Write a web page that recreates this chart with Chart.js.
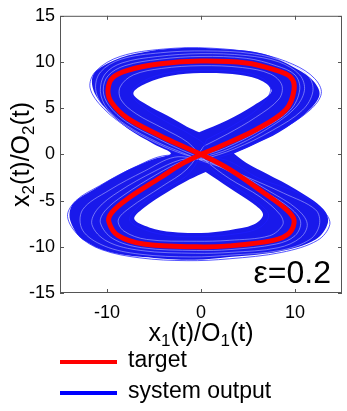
<!DOCTYPE html>
<html>
<head>
<meta charset="utf-8">
<script src="https://cdn.jsdelivr.net/npm/chart.js@4"></script>
<style>
  html, body { margin: 0; padding: 0; background: #fff; }
</style>
</head>
<body>
<canvas id="orbitChart" width="347" height="411"></canvas>
<script>
// axis ticks
var xTicks = [-10, 0, 10];
var yTicks = [-15, -10, -5, 0, 5, 10, 15];

// target orbit (red)
var target = [[0,0],[2.3,1.0],[5.9,2.7],[9.0,4.8],[9.9,7.0],[9.5,8.4],[7.7,9.2],[4.8,9.9],[0,10.1],[-4.3,9.8],[-7.8,9.1],[-9.4,8.3],[-9.9,6.9],[-9.5,5.6],[-7.8,3.9],[-4.3,2.0],[-2.0,0.9],[0,0],[3.0,-1.6],[6.6,-4.1],[9.0,-5.9],[9.9,-7.1],[9.4,-8.5],[7.7,-9.3],[3.0,-9.9],[-0.5,-10.0],[-6.1,-9.7],[-8.8,-8.8],[-9.8,-7.3],[-9.5,-6.3],[-7.8,-4.8],[-4.3,-2.5],[-2.0,-1.0],[0,0]];

// system output: outline of the dense band and its two holes
var band = [[3.5,0.1],[5.5,1.0],[8.3,2.4],[11.2,4.5],[12.6,6.4],[12.0,7.9],[10.1,9.3],[6.6,10.9],[2.0,11.4],[-2.4,11.5],[-7.0,10.9],[-10.0,9.8],[-11.5,8.5],[-11.3,6.6],[-9.6,4.4],[-7.8,2.8],[-5.0,1.1],[-3.2,0.1],[-5.0,-0.5],[-7.8,-1.7],[-11.4,-3.8],[-13.5,-5.2],[-14.0,-6.5],[-13.6,-7.9],[-12.6,-9.2],[-9.6,-10.6],[-5.0,-11.2],[-0.7,-11.4],[3.0,-11.1],[8.3,-10.5],[12.2,-9.2],[13.5,-7.4],[13.0,-5.9],[10.1,-3.8],[7.0,-2.1],[4.8,-0.9],[3.5,0.1]];
var holeUp = [[-0.2,2.4],[2.8,3.7],[5.6,5.3],[7.5,6.8],[6.6,7.9],[4.2,8.6],[0,8.8],[-3.2,8.5],[-5.8,7.7],[-7.2,6.6],[-5.8,5.4],[-3.6,4.2],[-1.5,3.0],[-0.2,2.4]];
var holeLow = [[0.5,-1.9],[3.0,-3.6],[5.5,-5.3],[6.6,-6.5],[5.6,-7.6],[3.0,-8.2],[0,-8.5],[-3.0,-8.4],[-5.5,-7.9],[-7.1,-7.0],[-6.1,-5.8],[-3.6,-4.1],[-1.2,-2.7],[0.5,-1.9]];

// single output loops (streaks and ragged edges)
var loopInner = [[0.6,1.6],[3.2,3.0],[6.0,4.9],[7.4,6.9],[6.6,8.2],[4.2,8.9],[0,9.1],[-3.5,8.8],[-6.0,8.0],[-7.4,6.6],[-6.0,5.0],[-3.8,3.6],[-1.2,2.2],[0.8,0.6],[1.0,-1.4],[3.2,-3.2],[5.9,-5.1],[7.2,-6.6],[6.1,-8.0],[3.0,-8.7],[0,-8.9],[-3.2,-8.8],[-5.9,-8.2],[-7.6,-7.1],[-6.5,-5.5],[-4.0,-3.8],[-1.5,-2.3],[-0.2,-0.4],[0.6,1.6]];
var loopMidIn = [[0.3,0.9],[2.8,2.2],[5.8,4.0],[8.3,6.0],[8.6,7.5],[7.4,8.7],[4.4,9.4],[0,9.6],[-4.2,9.3],[-7.2,8.6],[-8.6,7.3],[-8.5,5.9],[-6.9,4.4],[-4.0,2.8],[-1.4,1.3],[0.4,-0.6],[3.0,-2.6],[6.3,-4.6],[8.4,-6.5],[8.7,-7.6],[7.3,-8.8],[3.0,-9.3],[-0.5,-9.4],[-5.8,-9.2],[-8.2,-8.3],[-8.8,-7.1],[-7.6,-5.8],[-4.2,-3.5],[-1.5,-1.6],[0.3,0.9]];
var loopNear = [[0,-0.2],[2.6,0.7],[6.3,2.6],[9.5,4.8],[10.5,7.0],[10.0,8.6],[8.0,9.6],[4.8,10.4],[0,10.6],[-4.4,10.3],[-8.1,9.6],[-9.9,8.5],[-10.4,6.9],[-9.8,5.3],[-7.9,3.5],[-4.4,1.6],[-2.1,0.5],[0.2,-0.5],[3.3,-2.0],[6.9,-4.1],[9.6,-5.9],[10.6,-7.3],[10.0,-8.8],[8.0,-9.7],[3.1,-10.3],[-0.5,-10.4],[-6.3,-10.1],[-9.4,-9.1],[-10.7,-7.4],[-10.2,-6.1],[-8.2,-4.4],[-4.6,-2.1],[-2.1,-0.8],[0,-0.2]];
var loopMidOut = [[0,-0.4],[3.0,0.6],[6.8,2.6],[9.9,4.9],[11.0,6.9],[10.5,8.6],[8.3,10.0],[4.8,10.7],[0,10.9],[-4.6,10.6],[-8.4,9.9],[-10.2,8.7],[-10.7,6.8],[-10.0,5.0],[-8.0,3.2],[-4.6,1.3],[-2.0,0.2],[0.4,-0.8],[3.6,-1.9],[7.3,-4.0],[10.2,-5.9],[11.3,-7.5],[10.6,-9.0],[8.2,-10.1],[3.2,-10.6],[-0.6,-10.7],[-6.4,-10.4],[-10.0,-9.4],[-11.6,-7.6],[-11.0,-5.9],[-8.7,-4.0],[-4.9,-1.8],[-2.2,-0.6],[0,-0.4]];
var loopWide = [[0.1,-0.6],[3.6,0.6],[7.6,2.6],[10.8,4.8],[11.9,6.8],[11.4,8.5],[9.2,9.9],[5.5,10.9],[0.5,11.2],[-4.3,11.0],[-8.5,10.3],[-10.7,8.9],[-11.2,7.0],[-10.2,4.9],[-7.9,3.0],[-4.5,1.1],[-1.8,0.0],[1.5,-1.0],[5.0,-2.5],[8.8,-4.2],[12.2,-6.0],[12.6,-7.6],[11.6,-9.2],[8.4,-10.4],[3.1,-10.9],[-1.0,-11.1],[-6.5,-10.8],[-10.3,-9.9],[-12.6,-8.2],[-12.6,-6.0],[-9.8,-3.9],[-6.0,-1.8],[-2.8,-0.3],[0.1,-0.6]];
var loopOuter = [[0.2,-0.9],[4.2,0.5],[8.4,2.6],[11.6,4.8],[12.8,6.6],[12.1,8.2],[9.9,9.7],[6.2,10.9],[1.0,11.5],[-4.0,11.4],[-8.6,10.6],[-11.2,9.0],[-11.8,7.2],[-10.4,5.0],[-7.8,2.9],[-4.4,1.0],[-1.5,-0.2],[2.6,-0.6],[6.2,-2.6],[10.4,-4.2],[13.1,-6.2],[13.7,-7.6],[12.4,-9.3],[8.6,-10.6],[3.0,-11.3],[-1.5,-11.5],[-6.5,-11.2],[-10.6,-10.3],[-13.0,-8.8],[-14.2,-6.7],[-13.3,-5.0],[-10.8,-3.4],[-7.3,-1.5],[-3.6,-0.1],[0.2,-0.9]];

var FONT = '"Liberation Sans", Arial, Helvetica, sans-serif';

function toPoints(arr) {
    return arr.map(function (p) { return { x: p[0], y: p[1] }; });
}

function curve(arr, color, width, extra) {
    var ds = {
        data: toPoints(arr),
        borderColor: color,
        borderWidth: width,
        pointRadius: 0,
        tension: 0.35,
        fill: false
    };
    return Object.assign(ds, extra || {});
}

// draws text made of normal and subscript pieces, centred on (cx, cy)
function drawSubText(ctx, parts, cx, cy, size) {
    var big = size + 'px ' + FONT, small = Math.round(size * 0.68) + 'px ' + FONT;
    var total = 0;
    parts.forEach(function (p) {
        ctx.font = p[1] ? small : big;
        total += ctx.measureText(p[0]).width;
    });
    var x = cx - total / 2;
    ctx.textAlign = 'left';
    ctx.textBaseline = 'middle';
    parts.forEach(function (p) {
        ctx.font = p[1] ? small : big;
        ctx.fillText(p[0], x, p[1] ? cy + size * 0.3 : cy);
        x += ctx.measureText(p[0]).width;
    });
}

var decorations = {
    id: 'decorations',
    afterDraw: function (chart) {
        var ctx = chart.ctx, a = chart.chartArea;
        var xs = chart.scales.x, ys = chart.scales.y;
        ctx.save();

        // box and inner tick marks
        ctx.strokeStyle = '#555';
        ctx.lineWidth = 1;
        ctx.strokeRect(a.left + 0.5, a.top + 0.5, a.right - a.left - 1, a.bottom - a.top - 1);
        ctx.beginPath();
        xTicks.forEach(function (v) {
            var px = Math.round(xs.getPixelForValue(v)) + 0.5;
            ctx.moveTo(px, a.bottom); ctx.lineTo(px, a.bottom - 4);
            ctx.moveTo(px, a.top); ctx.lineTo(px, a.top + 4);
        });
        yTicks.forEach(function (v) {
            var py = Math.round(ys.getPixelForValue(v)) + 0.5;
            ctx.moveTo(a.left, py); ctx.lineTo(a.left + 4, py);
            ctx.moveTo(a.right, py); ctx.lineTo(a.right - 4, py);
        });
        ctx.stroke();

        ctx.fillStyle = '#000';
        // x axis title
        drawSubText(ctx, [['x', false], ['1', true], ['(t)/O', false], ['1', true], ['(t)', false]],
            (a.left + a.right) / 2, 334, 25);
        // y axis title
        ctx.save();
        ctx.translate(22, (a.top + a.bottom) / 2);
        ctx.rotate(-Math.PI / 2);
        drawSubText(ctx, [['x', false], ['2', true], ['(t)/O', false], ['2', true], ['(t)', false]], 0, 0, 25);
        ctx.restore();

        // epsilon label
        ctx.font = '32px ' + FONT;
        ctx.textAlign = 'right';
        ctx.textBaseline = 'alphabetic';
        ctx.fillText('\u03b5=0.2', 331, 283);

        // legend
        ctx.lineWidth = 4;
        ctx.strokeStyle = 'rgb(255,0,0)';
        ctx.beginPath(); ctx.moveTo(60, 362); ctx.lineTo(117, 362); ctx.stroke();
        ctx.strokeStyle = 'rgb(0,0,255)';
        ctx.beginPath(); ctx.moveTo(60, 393); ctx.lineTo(117, 393); ctx.stroke();
        ctx.font = '23px ' + FONT;
        ctx.textAlign = 'left';
        ctx.textBaseline = 'middle';
        ctx.fillText('target', 128, 361);
        ctx.fillText('system output', 128, 392);

        ctx.restore();
    }
};

var LIGHT = 'rgba(190,190,255,0.55)';
var EDGE = 'rgba(30,30,255,0.75)';

var ctx = document.getElementById('orbitChart').getContext('2d');
var orbitChart = new Chart(ctx, {
    type: 'line',
    data: {
        datasets: [
            curve(target, 'rgb(255,0,0)', 5),
            curve(loopInner, EDGE, 1),
            curve(loopMidIn, LIGHT, 1),
            curve(loopNear, LIGHT, 1),
            curve(loopMidOut, LIGHT, 1),
            curve(loopWide, LIGHT, 1),
            curve(loopOuter, EDGE, 1),
            curve(holeUp, 'rgba(0,0,0,0)', 0, { fill: 'shape', backgroundColor: '#fff' }),
            curve(holeLow, 'rgba(0,0,0,0)', 0, { fill: 'shape', backgroundColor: '#fff' }),
            curve(band, 'rgba(0,0,0,0)', 0, { fill: 'shape', backgroundColor: 'rgb(25,25,235)' })
        ]
    },
    options: {
        responsive: false,
        animation: false,
        events: [],
        layout: { padding: { top: 13, right: 5, left: 0, bottom: 0 } },
        plugins: { legend: { display: false }, tooltip: { enabled: false } },
        scales: {
            x: {
                type: 'linear',
                min: -15,
                max: 15,
                afterBuildTicks: function (s) { s.ticks = xTicks.map(function (v) { return { value: v }; }); },
                afterFit: function (s) { s.height = 118; },
                grid: { display: false, drawTicks: false },
                border: { display: false },
                ticks: { padding: 9, color: '#000', maxRotation: 0, font: { family: FONT, size: 18 } }
            },
            y: {
                type: 'linear',
                min: -15,
                max: 15,
                afterBuildTicks: function (s) { s.ticks = yTicks.map(function (v) { return { value: v }; }); },
                afterFit: function (s) { s.width = 60; },
                grid: { display: false, drawTicks: false },
                border: { display: false },
                ticks: { padding: 5, color: '#000', font: { family: FONT, size: 18 } }
            }
        }
    },
    plugins: [decorations]
});
</script>
</body>
</html>
